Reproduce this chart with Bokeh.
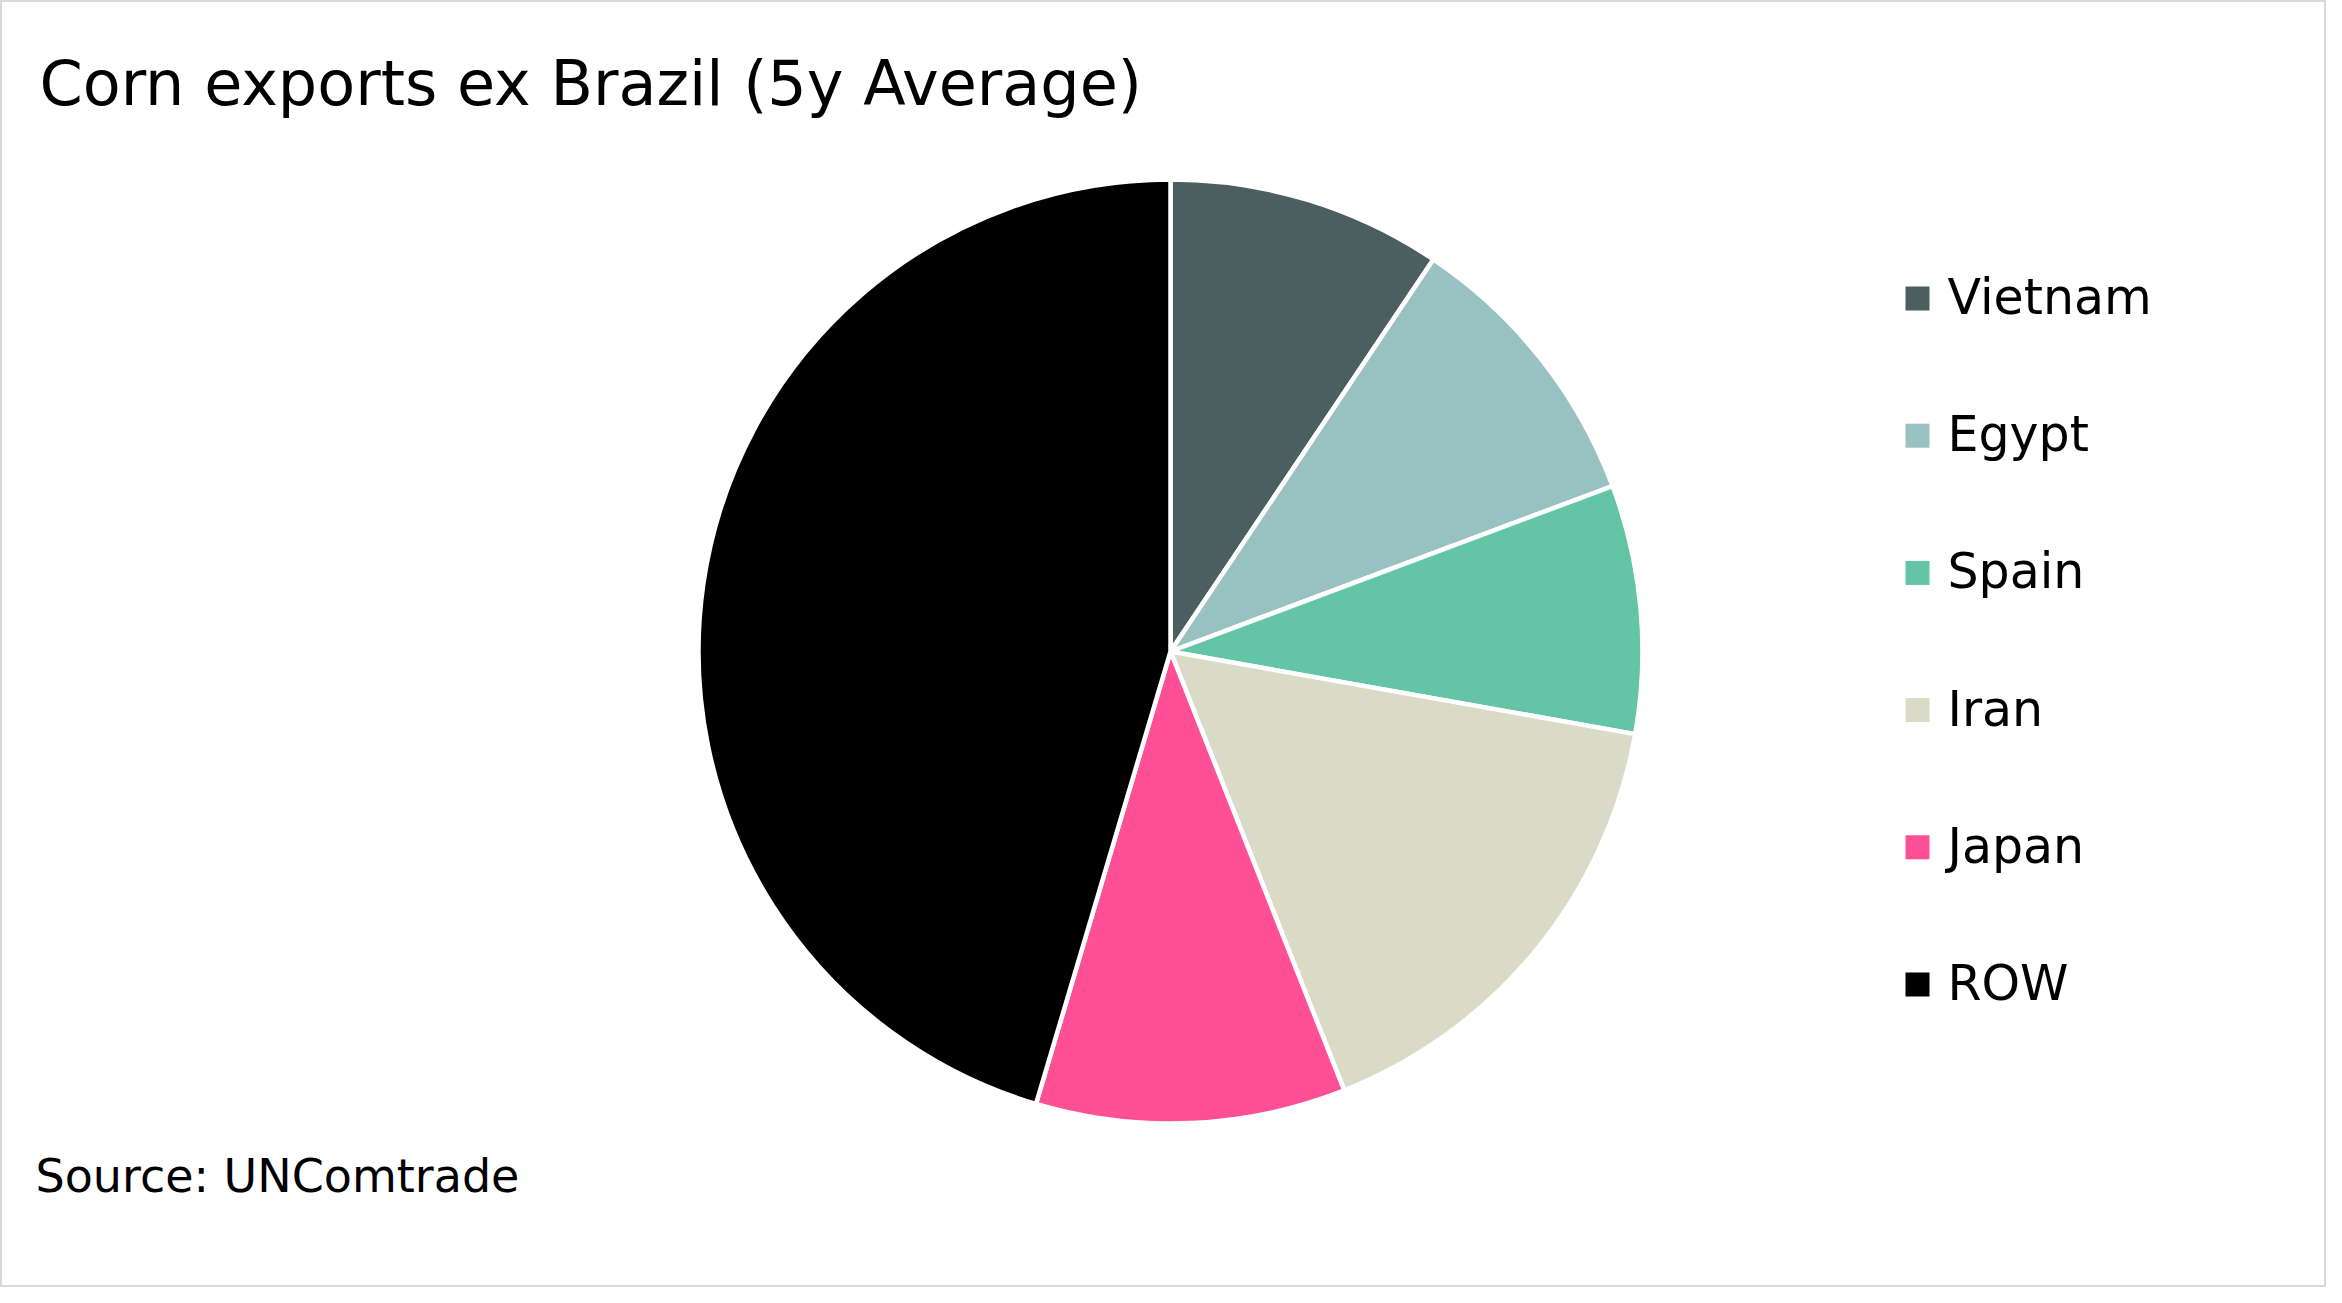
import math
from bokeh.plotting import figure
from bokeh.models import Range1d, Label, ColumnDataSource
from bokeh.embed import file_html
from bokeh.resources import INLINE

# ---- data ----
title = "Corn exports ex Brazil (5y Average)"
source_note = "Source: UNComtrade"
countries = ["Vietnam", "Egypt", "Spain", "Iran", "Japan", "ROW"]
shares = [9.4, 9.9, 8.5, 16.2, 10.6, 45.4]
colors = ["#4b5f60", "#98c2c1", "#63c5a5", "#d9dbc6", "#ff4f96", "#000000"]

W, H = 2326, 1287
p = figure(width=W, height=H, output_backend="svg", toolbar_location=None,
           x_range=Range1d(0, W), y_range=Range1d(0, H), min_border=0)
p.axis.visible = False
p.grid.visible = False
p.background_fill_color = "white"
p.border_fill_color = "white"
p.outline_line_color = "#d9d9d9"
p.outline_line_width = 3

# pie (starts at 12 o'clock, clockwise)
total = sum(shares)
starts, ends = [], []
cum = 0.0
for s in shares:
    starts.append(math.pi / 2 - 2 * math.pi * cum / total)
    cum += s
    ends.append(math.pi / 2 - 2 * math.pi * cum / total)
src = ColumnDataSource(dict(start=starts, end=ends, color=colors, name=countries))
cx, cy, r = 1170, 636, 472
p.wedge(x=cx, y=cy, radius=r, start_angle="start", end_angle="end", direction="clock",
        fill_color="color", line_color="white", line_width=4.5, source=src)

# legend
n = len(countries)
lx = [1917] * n
ly = [989 - 137.2 * i for i in range(n)]
tx = [1947] * n
ty = [y + 1 for y in ly]
leg = ColumnDataSource(dict(x=lx, y=ly, tx=tx, ty=ty, color=colors, name=countries))
p.scatter(x="x", y="y", marker="square", size=24, fill_color="color", line_color=None, source=leg)
p.text(x="tx", y="ty", text="name", source=leg, text_font_size="49px",
       text_font={"value": "DejaVu Sans"}, text_baseline="alphabetic", text_align="left",
       text_color="#000000")

# title and source
p.add_layout(Label(x=39, y=H - 83, text=title, text_font="DejaVu Sans", text_font_size="62px",
                   text_color="#000000", text_baseline="alphabetic"))
p.add_layout(Label(x=35, y=112, text=source_note, text_font="DejaVu Sans", text_font_size="46px",
                   text_color="#000000", text_baseline="alphabetic"))

open("out.html", "w").write(file_html(p, INLINE))
